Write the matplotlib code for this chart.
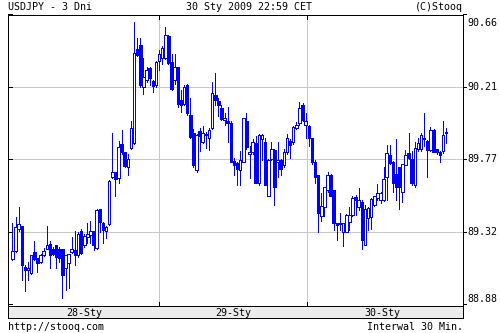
import numpy as np
import matplotlib
matplotlib.use("Agg")
import matplotlib.pyplot as plt
from matplotlib.lines import Line2D
import matplotlib.transforms as mtransforms

# ---------------- data (USDJPY, 30-min candles, 3 days) ----------------
opens = [89.157, 89.206, 89.34, 89.36, 89.11, 89.09, 89.07, 89.20, 89.16, 89.14,
         89.18, 89.22, 89.25, 89.22, 89.24, 89.22, 89.22, 89.10, 89.13, 89.20,
         89.21, 89.18, 89.33, 89.24, 89.29, 89.304, 89.326, 89.224, 89.463, 89.38,
         89.328, 89.37, 89.66, 89.69, 89.65, 89.86, 89.81, 89.72, 89.835, 89.865,
         90.44, 90.467, 90.21, 90.253, 90.325, 90.247, 90.222, 90.37, 90.388, 90.388,
         90.524, 90.363, 90.25, 90.33, 90.13, 90.104, 90.222, 90.04, 89.93, 89.70,
         89.94, 89.873, 89.916, 89.896, 89.957, 90.16, 90.125, 90.08, 90.005, 90.0,
         89.99, 89.755, 89.745, 89.70, 89.753, 90.0, 89.80, 89.81, 89.865, 89.62,
         89.89, 89.875, 89.54, 89.77, 89.824, 89.75, 89.763, 89.73, 89.81, 89.88,
         89.875, 89.96, 89.988, 90.10, 89.98, 89.97, 89.895, 89.753, 89.67, 89.42,
         89.473, 89.579, 89.671, 89.58, 89.379, 89.37, 89.324, 89.324, 89.385, 89.426,
         89.535, 89.477, 89.508, 89.242, 89.406, 89.412, 89.487, 89.528, 89.52, 89.518,
         89.661, 89.794, 89.752, 89.68, 89.718, 89.569, 89.732, 89.808, 89.767, 89.61,
         89.828, 89.828, 89.89, 89.88, 89.824, 89.947, 89.828, 89.814, 89.818, 89.93]
closes = [89.206, 89.354, 89.37, 89.12, 89.09, 89.10, 89.18, 89.155, 89.13, 89.18,
          89.205, 89.245, 89.18, 89.19, 89.17, 89.16, 89.06, 89.18, 89.19, 89.22,
          89.18, 89.31, 89.195, 89.30, 89.31, 89.326, 89.242, 89.457, 89.385, 89.334,
          89.355, 89.634, 89.687, 89.646, 89.84, 89.81, 89.728, 89.77, 89.96, 90.42,
          90.406, 90.222, 90.27, 90.314, 90.264, 90.218, 90.365, 90.41, 90.449, 90.529,
          90.36, 90.20, 90.33, 90.104, 90.10, 90.212, 90.05, 89.906, 89.73, 89.916,
          89.91, 89.93, 89.925, 89.947, 90.171, 90.13, 90.10, 90.014, 90.02, 89.99,
          89.75, 89.733, 89.71, 89.76, 90.02, 89.84, 89.81, 89.875, 89.62, 89.916,
          89.916, 89.61, 89.763, 89.83, 89.60, 89.765, 89.706, 89.81, 89.895, 89.855,
          89.967, 89.977, 90.08, 90.008, 90.0, 89.895, 89.753, 89.66, 89.44, 89.48,
          89.596, 89.671, 89.543, 89.375, 89.365, 89.38, 89.379, 89.426, 89.426, 89.528,
          89.518, 89.518, 89.273, 89.46, 89.467, 89.522, 89.543, 89.559, 89.56, 89.645,
          89.808, 89.746, 89.62, 89.596, 89.60, 89.738, 89.794, 89.773, 89.62, 89.835,
          89.869, 89.916, 89.90, 89.824, 89.947, 89.814, 89.814, 89.794, 89.916, 89.93]
highs = [89.377, 89.412, 89.473, 89.36, 89.12, 89.14, 89.18, 89.267, 89.16, 89.19,
         89.224, 89.359, 89.27, 89.23, 89.24, 89.23, 89.22, 89.18, 89.19, 89.293,
         89.33, 89.32, 89.34, 89.31, 89.375, 89.39, 89.33, 89.46, 89.465, 89.385,
         89.36, 89.64, 89.926, 89.69, 89.88, 89.946, 89.81, 89.80, 90.0, 90.606,
         90.51, 90.51, 90.39, 90.33, 90.33, 90.25, 90.37, 90.437, 90.46, 90.58,
         90.53, 90.41, 90.41, 90.33, 90.19, 90.22, 90.23, 90.14, 89.95, 89.92,
         89.96, 89.97, 89.935, 89.96, 90.24, 90.294, 90.14, 90.10, 90.05, 90.09,
         90.0, 89.775, 89.75, 89.82, 90.02, 90.05, 89.85, 89.89, 89.91, 89.92,
         89.92, 89.90, 89.77, 89.875, 89.83, 89.875, 89.77, 89.83, 89.92, 89.89,
         89.97, 89.997, 90.12, 90.11, 90.05, 89.98, 89.90, 89.76, 89.67, 89.559,
         89.60, 89.69, 89.68, 89.58, 89.38, 89.44, 89.38, 89.43, 89.477, 89.542,
         89.549, 89.59, 89.52, 89.487, 89.477, 89.53, 89.543, 89.614, 89.57, 89.718,
         89.855, 89.855, 89.755, 89.89, 89.72, 89.74, 89.824, 89.93, 89.82, 89.875,
         89.896, 89.926, 90.053, 89.885, 89.967, 89.95, 89.83, 89.82, 90.004, 89.957]
lows = [89.15, 89.20, 89.33, 89.03, 88.962, 89.03, 89.065, 89.15, 89.08, 89.13,
        89.175, 89.215, 89.10, 89.18, 89.10, 89.14, 88.916, 88.967, 88.977, 89.195,
        89.12, 89.17, 89.19, 89.23, 89.253, 89.255, 89.212, 89.22, 89.32, 89.255,
        89.285, 89.365, 89.655, 89.544, 89.62, 89.80, 89.72, 89.67, 89.83, 89.86,
        90.40, 90.21, 90.17, 90.24, 90.22, 90.178, 90.21, 90.314, 90.35, 90.38,
        90.35, 90.19, 90.23, 90.09, 90.06, 90.10, 90.04, 89.90, 89.72, 89.69,
        89.82, 89.87, 89.835, 89.824, 89.95, 90.10, 90.03, 90.01, 89.98, 89.875,
        89.75, 89.67, 89.61, 89.61, 89.75, 89.83, 89.65, 89.80, 89.62, 89.61,
        89.763, 89.61, 89.54, 89.76, 89.49, 89.66, 89.67, 89.72, 89.80, 89.775,
        89.86, 89.95, 89.98, 90.0, 89.90, 89.85, 89.74, 89.62, 89.324, 89.39,
        89.42, 89.57, 89.54, 89.334, 89.273, 89.334, 89.236, 89.32, 89.334, 89.42,
        89.426, 89.457, 89.216, 89.24, 89.334, 89.34, 89.48, 89.52, 89.50, 89.51,
        89.52, 89.74, 89.569, 89.518, 89.46, 89.508, 89.73, 89.77, 89.61, 89.60,
        89.82, 89.82, 89.85, 89.66, 89.82, 89.81, 89.80, 89.753, 89.808, 89.865]

ytick_values = [90.66, 90.21, 89.77, 89.32, 88.88]
ytick_labels = ["90.66", "90.21", "89.77", "89.32", "88.88"]
day_labels = ["28-Sty", "29-Sty", "30-Sty"]
day_bounds = [-0.9, 47.1, 94.5, 142.5]

title_left = "USDJPY - 3 Dni"
title_mid = "30 Sty 2009 22:59 CET"
title_right = "(C)Stooq"
foot_left = "http://stooq.com"
foot_right = "Interwal 30 Min."

# ---------------- layout ----------------
W, H = 500, 333
fig = plt.figure(figsize=(W / 100, H / 100), dpi=100)
fig.patch.set_facecolor("white")

def fx(px):
    return px / W

def fy(py):
    return 1 - py / H

L_PX, R_PX, T_PX, B_PX, S_PX = 8, 463, 15, 306, 318.3
FONT = dict(family="DejaVu Sans Mono", size=7.2, color="black")
BLUE = "#0000ff"
GRID = "#c8c8c8"
LW = 0.72

ax = fig.add_axes([fx(L_PX), fy(B_PX), fx(R_PX) - fx(L_PX), fy(T_PX) - fy(B_PX)])
xlim = (-1.44, 144.44)
ax.set_xlim(*xlim)
ax.set_ylim(88.869, 90.651)
ax.set_xticks([])
ax.set_yticks([])
for s in ax.spines.values():
    s.set_color("black")
    s.set_linewidth(LW)

# grid lines
for v in ytick_values[1:-1]:
    ax.axhline(v, color=GRID, lw=LW, zorder=1)
for b in day_bounds[1:-1]:
    ax.axvline(b, color=GRID, lw=LW, zorder=1)

# tick marks
yblend = mtransforms.blended_transform_factory(ax.transAxes, ax.transData)
xblend = mtransforms.blended_transform_factory(ax.transData, ax.transAxes)
tick_ax_w = 4 / (R_PX - L_PX)
tick_ax_h = 4 / (B_PX - T_PX)
for v in ytick_values:
    ax.add_line(Line2D([0, tick_ax_w], [v, v], transform=yblend, color="black",
                       lw=LW, clip_on=False, zorder=5))
    ax.add_line(Line2D([1, 1 + tick_ax_w * 0.8], [v, v], transform=yblend,
                       color="black", lw=LW, clip_on=False, zorder=5))
for b in day_bounds[1:-1]:
    ax.add_line(Line2D([b, b], [0, tick_ax_h], transform=xblend, color="black",
                       lw=LW, zorder=5))
    ax.add_line(Line2D([b, b], [1 - tick_ax_h, 1], transform=xblend, color="black",
                       lw=LW, zorder=5))

# candles
x = np.arange(len(opens))
o = np.array(opens)
c = np.array(closes)
hi = np.maximum(np.array(highs), np.maximum(o, c))
lo = np.minimum(np.array(lows), np.minimum(o, c))
ax.vlines(x, lo, hi, color=BLUE, lw=LW, zorder=3, antialiased=False)
up = c >= o
body_bottom = np.minimum(o, c)
body_h = np.maximum(np.abs(c - o), 0.002)
ax.bar(x[up], body_h[up], bottom=body_bottom[up], width=0.82, facecolor="white",
       edgecolor=BLUE, linewidth=LW, zorder=4, antialiased=False)
ax.bar(x[~up], body_h[~up], bottom=body_bottom[~up], width=0.82, facecolor=BLUE,
       edgecolor=BLUE, linewidth=LW, zorder=4, antialiased=False)

# y labels on the right
for v, lab in zip(ytick_values, ytick_labels):
    if lab == ytick_labels[0]:
        va, dy = "top", -3.0
    elif lab == ytick_labels[-1]:
        va, dy = "bottom", 0.5
    else:
        va, dy = "center", 0.0
    tr = mtransforms.offset_copy(yblend, fig=fig, x=2.8, y=dy, units="points")
    ax.text(1, v, lab, transform=tr, va=va, ha="left", **FONT)

# date strip
sax = fig.add_axes([fx(L_PX), fy(S_PX), fx(R_PX) - fx(L_PX), fy(B_PX) - fy(S_PX)])
sax.set_facecolor("#ececec")
sax.set_xlim(*xlim)
sax.set_ylim(0, 1)
sax.set_xticks([])
sax.set_yticks([])
for s in sax.spines.values():
    s.set_color("black")
    s.set_linewidth(LW)
for i, lab in enumerate(day_labels):
    cx = (day_bounds[i] + day_bounds[i + 1]) / 2
    sax.text(cx, 0.45, lab, ha="center", va="center", **FONT)

# titles / footers
fig.text(fx(8), fy(7.5), title_left, ha="left", va="center", **FONT)
fig.text(fx(249), fy(7.5), title_mid, ha="center", va="center", **FONT)
fig.text(fx(463), fy(7.5), title_right, ha="right", va="center", **FONT)
fig.text(fx(8), fy(326.5), foot_left, ha="left", va="center", **FONT)
fig.text(fx(463), fy(326.5), foot_right, ha="right", va="center", **FONT)

fig.savefig("out.png", dpi=100)
